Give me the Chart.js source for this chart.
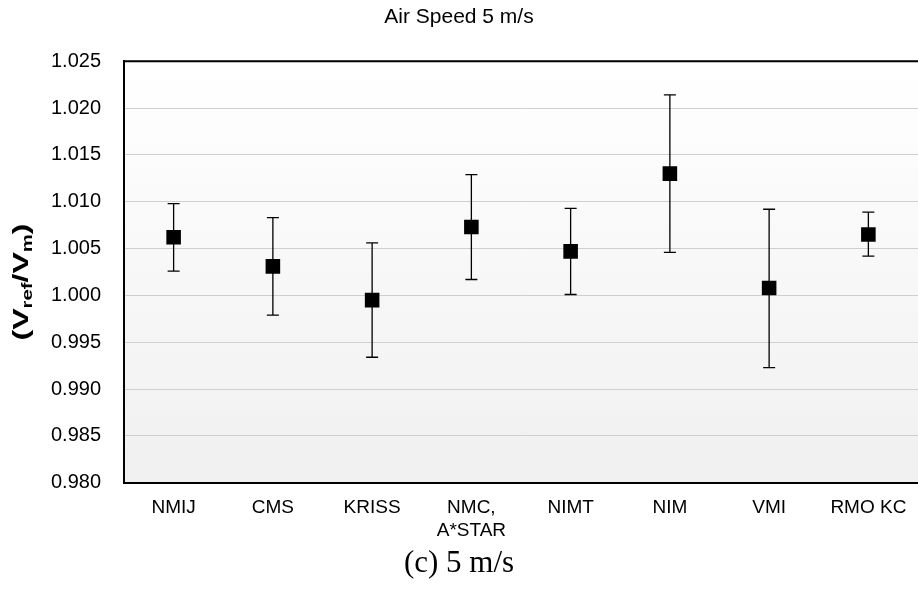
<!DOCTYPE html>
<html>
<head>
<meta charset="utf-8">
<script src="https://cdn.jsdelivr.net/npm/chart.js@4"></script>
<style>
  html, body { margin: 0; padding: 0; background: #fff; }
</style>
</head>
<body>
<canvas id="myChart" width="918" height="592"></canvas>
<script>
const ctx = document.getElementById('myChart');

const labs = ['NMIJ', 'CMS', 'KRISS', ['NMC,', 'A*STAR'], 'NIMT', 'NIM', 'VMI', 'RMO KC'];
const ratio = [1.0062, 1.0031, 0.9995, 1.0073, 1.0047, 1.0130, 1.0008, 1.0065];
const upper = [1.0098, 1.0083, 1.0056, 1.0129, 1.0093, 1.0214, 1.0092, 1.0089];
const lower = [1.0026, 0.9979, 0.9934, 1.0017, 1.0001, 1.0046, 0.9923, 1.0042];
const yMin = 0.980, yMax = 1.025, yStep = 0.005;

const sans = "'Liberation Sans', Arial, sans-serif";
const serif = "'Liberation Serif', 'Times New Roman', serif";

// plot background, light gradient, plus the top frame line
const plotBg = {
  id: 'plotBg',
  beforeDraw(chart) {
    const a = chart.chartArea, c = chart.ctx;
    const g = c.createLinearGradient(0, a.top, 0, a.bottom);
    g.addColorStop(0, '#ffffff');
    g.addColorStop(1, '#f0f0f0');
    c.save();
    c.fillStyle = g;
    c.fillRect(a.left, a.top, a.right - a.left, a.bottom - a.top);
    c.restore();
  },
  afterDraw(chart) {
    const a = chart.chartArea, c = chart.ctx;
    c.save();
    c.strokeStyle = '#000';
    c.lineWidth = 2;
    c.beginPath();
    c.moveTo(a.left - 1, a.top);
    c.lineTo(a.right, a.top);
    c.stroke();
    c.restore();
  }
};

// error bars from upper / lower
const errBars = {
  id: 'errBars',
  beforeDatasetsDraw(chart) {
    const c = chart.ctx, x = chart.scales.x, y = chart.scales.y;
    c.save();
    c.strokeStyle = '#000';
    c.lineWidth = 1.3;
    for (let i = 0; i < ratio.length; i++) {
      const px = x.getPixelForValue(i);
      const top = y.getPixelForValue(upper[i]);
      const bot = y.getPixelForValue(lower[i]);
      c.beginPath();
      c.moveTo(px, top); c.lineTo(px, bot);
      c.moveTo(px - 6, top); c.lineTo(px + 6, top);
      c.moveTo(px - 6, bot); c.lineTo(px + 6, bot);
      c.stroke();
    }
    c.restore();
  }
};

// y axis title with subscripts
const yTitle = {
  id: 'yTitle',
  afterDraw(chart) {
    const c = chart.ctx;
    const parts = [['(', 0], ['V', 0], ['ref', 1], ['/', 0], ['V', 0], ['m', 1], [')', 0]];
    const big = 'bold 22px ' + sans, small = 'bold 14px ' + sans;
    let w = 0;
    parts.forEach(p => { c.font = p[1] ? small : big; w += c.measureText(p[0]).width; });
    const sx = 117 / w;
    c.save();
    c.translate(28, 282);
    c.rotate(-Math.PI / 2);
    c.scale(sx, 1);
    c.fillStyle = '#000';
    c.textBaseline = 'alphabetic';
    let px = -w / 2;
    parts.forEach(p => {
      c.font = p[1] ? small : big;
      c.fillText(p[0], px, p[1] ? 4 : 0);
      px += c.measureText(p[0]).width;
    });
    c.restore();
  }
};

new Chart(ctx, {
  type: 'line',
  data: {
    labels: labs,
    datasets: [{
      data: ratio,
      showLine: false,
      pointStyle: 'rect',
      pointRadius: 10.3,
      pointHoverRadius: 10.3,
      pointBackgroundColor: '#000',
      pointBorderColor: '#000',
      pointBorderWidth: 0
    }]
  },
  options: {
    responsive: false,
    animation: false,
    events: [],
    layout: { padding: 0, autoPadding: false },
    plugins: {
      legend: { display: false },
      tooltip: { enabled: false },
      title: {
        display: true,
        text: 'Air Speed 5 m/s',
        color: '#000',
        font: { family: sans, size: 21, weight: 'normal' },
        padding: { top: 5, bottom: 31 }
      },
      subtitle: {
        display: true,
        position: 'bottom',
        text: '(c) 5 m/s',
        color: '#000',
        font: { family: serif, size: 31, weight: 'normal' },
        padding: { top: 0, bottom: 10 }
      }
    },
    scales: {
      x: {
        offset: true,
        grid: { display: false, drawTicks: false },
        border: { display: true, color: '#000', width: 2 },
        ticks: {
          color: '#000',
          font: { family: sans, size: 19 },
          padding: 14,
          maxRotation: 0,
          autoSkip: false
        },
        afterFit: s => { s.height = 62; s.paddingLeft = 0; s.paddingRight = 0; }
      },
      y: {
        min: yMin,
        max: yMax,
        grid: { color: '#cfcfcf', lineWidth: 1, drawTicks: false },
        border: { display: true, color: '#000', width: 2 },
        ticks: {
          stepSize: yStep,
          color: '#000',
          font: { family: sans, size: 20 },
          padding: 23,
          callback: v => v.toFixed(3)
        },
        afterFit: s => { s.width = 124; }
      }
    }
  },
  plugins: [plotBg, errBars, yTitle]
});
</script>
</body>
</html>
